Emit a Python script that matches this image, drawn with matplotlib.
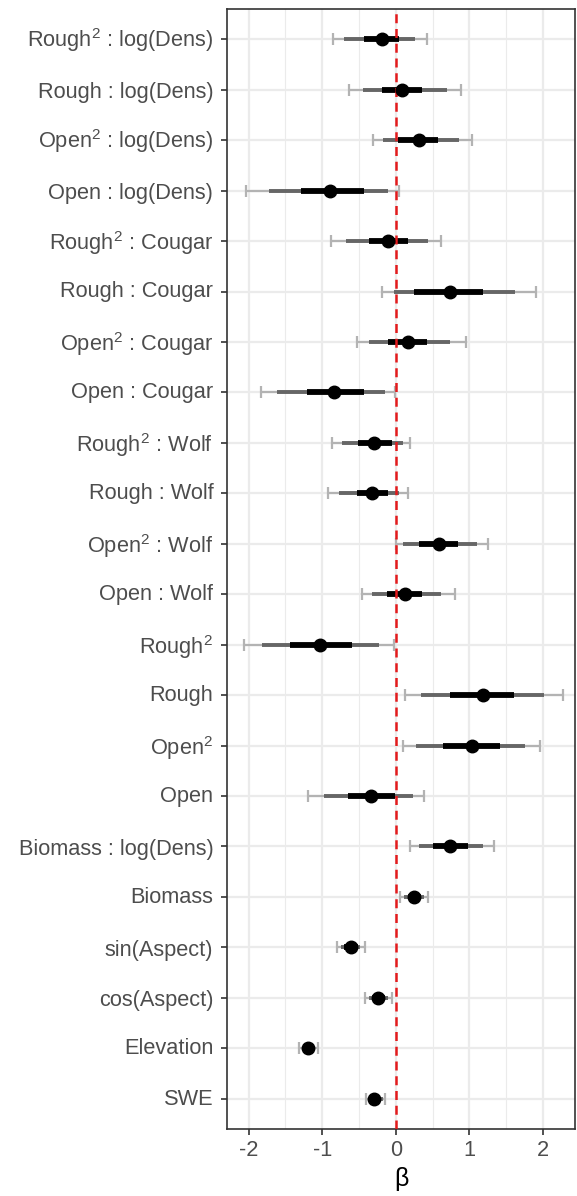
import matplotlib
matplotlib.use("Agg")
import matplotlib.pyplot as plt
from matplotlib.transforms import blended_transform_factory, ScaledTranslation

plt.rcParams['font.family'] = ['Liberation Sans', 'DejaVu Sans']
plt.rcParams['mathtext.fontset'] = 'custom'
plt.rcParams['mathtext.rm'] = 'Liberation Sans'
plt.rcParams['mathtext.it'] = 'Liberation Sans'
plt.rcParams['mathtext.bf'] = 'Liberation Sans'

terms = ["Rough$^2$ : log(Dens)", "Rough : log(Dens)", "Open$^2$ : log(Dens)", "Open : log(Dens)",
         "Rough$^2$ : Cougar", "Rough : Cougar", "Open$^2$ : Cougar", "Open : Cougar",
         "Rough$^2$ : Wolf", "Rough : Wolf", "Open$^2$ : Wolf", "Open : Wolf",
         "Rough$^2$", "Rough", "Open$^2$", "Open",
         "Biomass : log(Dens)", "Biomass", "sin(Aspect)", "cos(Aspect)", "Elevation", "SWE"]

estimate = [-0.19, 0.09, 0.31, -0.89, -0.10, 0.74, 0.17, -0.84, -0.30, -0.33, 0.59, 0.13,
            -1.03, 1.19, 1.04, -0.34, 0.74, 0.25, -0.61, -0.24, -1.19, -0.29]
outer_lo = [-0.86, -0.63, -0.31, -2.03, -0.88, -0.19, -0.53, -1.83, -0.87, -0.92, 0.00, -0.46,
            -2.06, 0.13, 0.10, -1.19, 0.19, 0.06, -0.80, -0.42, -1.32, -0.41]
outer_hi = [0.42, 0.89, 1.03, 0.05, 0.62, 1.90, 0.95, -0.01, 0.20, 0.16, 1.25, 0.81,
            -0.03, 2.28, 1.96, 0.39, 1.34, 0.44, -0.42, -0.05, -1.06, -0.14]
mid_lo = [-0.70, -0.45, -0.17, -1.73, -0.68, -0.03, -0.36, -1.61, -0.73, -0.77, 0.10, -0.33,
          -1.82, 0.34, 0.28, -0.98, 0.31, 0.11, -0.75, -0.37, -1.28, -0.37]
mid_hi = [0.26, 0.69, 0.86, -0.11, 0.44, 1.62, 0.74, -0.15, 0.10, 0.05, 1.10, 0.62,
          -0.23, 2.01, 1.75, 0.23, 1.19, 0.39, -0.48, -0.10, -1.10, -0.18]
inner_lo = [-0.43, -0.19, 0.03, -1.29, -0.37, 0.25, -0.10, -1.21, -0.52, -0.53, 0.32, -0.12,
            -1.44, 0.74, 0.64, -0.65, 0.50, 0.17, -0.70, -0.33, -1.24, -0.34]
inner_hi = [0.05, 0.36, 0.57, -0.43, 0.16, 1.18, 0.43, -0.43, -0.05, -0.11, 0.84, 0.36,
            -0.60, 1.61, 1.42, -0.01, 0.98, 0.34, -0.52, -0.15, -1.14, -0.22]

xticks = [-2, -1, 0, 1, 2]
xtick_labels = ["-2", "-1", "0", "1", "2"]

fig = plt.figure(figsize=(5.77, 11.96), dpi=100)
ax = fig.add_axes([0.394, 0.056, 0.603, 0.9365])

n = len(terms)
ypos = [n - i for i in range(n)]

ax.set_xlim(-2.29, 2.44)
ax.set_ylim(0.4, n + 0.6)

# grid
for gx in [-1.5, -0.5, 0.5, 1.5]:
    ax.axvline(gx, color='#EBEBEB', lw=0.8, zorder=0)
for gx in xticks:
    ax.axvline(gx, color='#EBEBEB', lw=1.6, zorder=0)
for y in ypos:
    ax.axhline(y, color='#EBEBEB', lw=1.6, zorder=0)

ax.errorbar(estimate, ypos,
            xerr=[[e - l for e, l in zip(estimate, outer_lo)], [h - e for e, h in zip(estimate, outer_hi)]],
            fmt='none', ecolor='#B3B3B3', elinewidth=1.6, capsize=4, capthick=1.6, zorder=2)
ax.hlines(ypos, mid_lo, mid_hi, color='#666666', lw=2.8, zorder=3)
ax.hlines(ypos, inner_lo, inner_hi, color='black', lw=4.2, zorder=4)
ax.axvline(0, color='#E31A1C', lw=1.8, dashes=(3.6, 2.3), zorder=5)
ax.plot(estimate, ypos, 'o', color='black', ms=9, zorder=6)

ax.set_yticks(ypos)
ax.set_yticklabels([])
ax.set_xticks(xticks)
ax.set_xticklabels(xtick_labels)
ax.tick_params(axis='both', labelsize=15.7, labelcolor='#4D4D4D', color='#333333',
               length=4, width=1.2, pad=3)
ax.tick_params(axis='x', pad=4)

# y labels drawn on a shared baseline rule (like ggplot's bbox centring)
base = blended_transform_factory(ax.transAxes, ax.transData)
for y, lab in zip(ypos, terms):
    if '(' in lab:
        off = 0.082
    elif '$' in lab:
        off = 0.092
    else:
        off = 0.058
    tr = base + ScaledTranslation(-0.14, -off, fig.dpi_scale_trans)
    ax.text(0, y, lab, transform=tr, ha='right', va='baseline', fontsize=15.7,
            color='#4D4D4D', clip_on=False)

for s in ax.spines.values():
    s.set_color('#333333')
    s.set_linewidth(1.2)
ax.set_xlabel("β", fontsize=18, color='black', labelpad=4)

fig.savefig("out.png", dpi=100)
